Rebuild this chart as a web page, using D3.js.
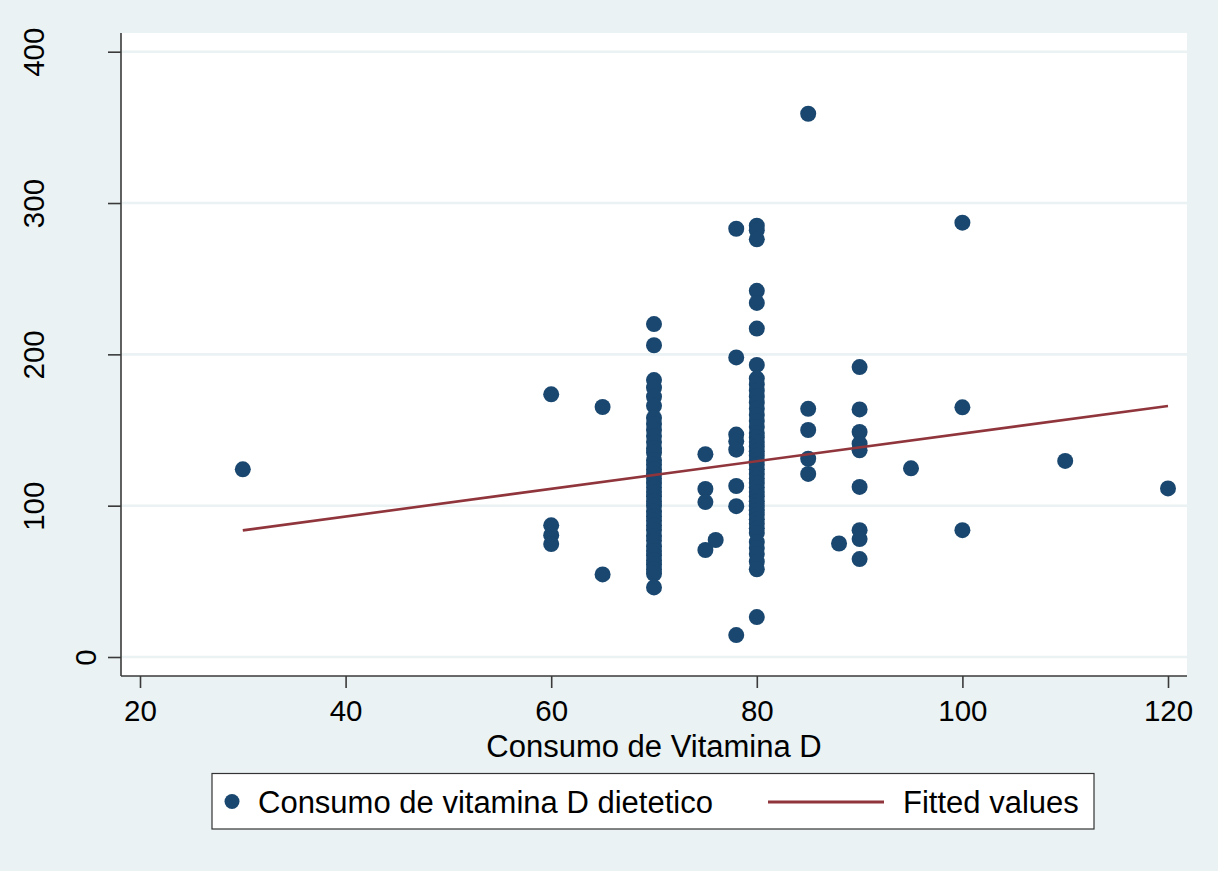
<!DOCTYPE html>
<html>
<head>
<meta charset="utf-8">
<script src="https://cdn.jsdelivr.net/npm/d3@7"></script>
<style>
  body { margin: 0; background: #eaf2f3; }
  svg { display: block; font-family: "Liberation Sans", Arial, Helvetica, sans-serif; }
</style>
</head>
<body>
<svg id="chart" width="1218" height="871"></svg>
<script>
// ---------- data ----------
const xTicks = [20, 40, 60, 80, 100, 120];
const yTicks = [0, 100, 200, 300, 400];
const xTitle = "Consumo de Vitamina D";
const legendLabels = ["Consumo de vitamina D dietetico", "Fitted values"];

// x levels (Consumo de Vitamina D) and the dietary values observed at each
const xLevels = [30, 60, 65, 70, 75, 76, 78, 80, 85, 88, 90, 95, 100, 110, 120];
const yAt30  = [124];
const yAt60  = [173.6, 87, 80.5, 74.6];
const yAt65  = [165.2, 54.6];
const yAt70  = [220, 206, 183, 178, 172, 166, 158, 154, 150, 146, 142, 138, 135, 130, 127, 124, 121, 118,
                115, 112, 109, 106, 103, 100, 96, 93, 90, 87, 84, 80, 77, 73, 70, 67, 64, 61, 58, 55, 46];
const yAt75  = [134, 111, 102.4, 70.7];
const yAt76  = [77.3];
const yAt78  = [283, 198, 147, 142.5, 137, 113, 99.7, 14.5];
const yAt80  = [285, 282, 276, 242, 234, 217, 193, 184, 180, 176, 172, 168, 164, 160, 156, 152, 148, 145,
                142, 139, 136, 133, 130, 127, 124, 121, 118, 115, 112, 109, 106, 103, 100, 97, 94, 91, 88,
                85, 82, 76, 72, 68, 63, 58, 26.4];
const yAt85  = [359, 164, 150, 131, 121];
const yAt88  = [75];
const yAt90  = [191.6, 163.6, 148.7, 141, 136.6, 112.4, 83.8, 77.9, 64.7];
const yAt95  = [124.7];
const yAt100 = [287, 165, 83.8];
const yAt110 = [129.6];
const yAt120 = [111.4];
const yByLevel = [yAt30, yAt60, yAt65, yAt70, yAt75, yAt76, yAt78, yAt80, yAt85, yAt88, yAt90, yAt95, yAt100, yAt110, yAt120];

// fitted values (linear fit)
const fitX = [30, 120];
const fitY = [83.7, 165.9];

// ---------- build ----------
const points = [];
xLevels.forEach((xv, i) => yByLevel[i].forEach(yv => points.push({x: xv, y: yv})));
const fitLine = fitX.map((xv, i) => ({x: xv, y: fitY[i]}));

const svg = d3.select("#chart");
const W = 1218, H = 871;
const plot = {left: 121, right: 1187, top: 33, bottom: 676};

const COL_BG = "#eaf2f3", COL_MARK = "#1a476f", COL_FIT = "#90353b", COL_AXIS = "#3a3a3a";

const x = d3.scaleLinear().domain([20, 120]).range([140, 1168]);
const y = d3.scaleLinear().domain([0, 400]).range([657, 51.7]);

svg.append("rect").attr("width", W).attr("height", H).attr("fill", COL_BG);
svg.append("rect")
  .attr("x", plot.left).attr("y", plot.top)
  .attr("width", plot.right - plot.left).attr("height", plot.bottom - plot.top)
  .attr("fill", "#ffffff");

// grid lines
svg.append("g").selectAll("line").data(yTicks).join("line")
  .attr("x1", plot.left).attr("x2", plot.right)
  .attr("y1", d => y(d)).attr("y2", d => y(d))
  .attr("stroke", COL_BG).attr("stroke-width", 2.6);

// points
svg.append("g").selectAll("circle").data(points).join("circle")
  .attr("cx", d => x(d.x)).attr("cy", d => y(d.y))
  .attr("r", 8).attr("fill", COL_MARK);

// fitted line
svg.append("path").datum(fitLine)
  .attr("d", d3.line().x(d => x(d.x)).y(d => y(d.y)))
  .attr("fill", "none").attr("stroke", COL_FIT).attr("stroke-width", 2.6);

// x axis
const xAxis = svg.append("g").attr("transform", `translate(0,${plot.bottom})`)
  .call(d3.axisBottom(x).tickValues(xTicks).tickSize(12).tickSizeOuter(0).tickPadding(9).tickFormat(d3.format("d")));
xAxis.select(".domain").attr("d", `M${plot.left},0H${plot.right}`).attr("stroke", COL_AXIS).attr("stroke-width", 1.6);
xAxis.selectAll(".tick line").attr("stroke", COL_AXIS).attr("stroke-width", 1.6);
xAxis.selectAll(".tick text")
  .attr("font-size", 29.5).attr("fill", "#000")
  .attr("font-family", "Liberation Sans, Arial, sans-serif")
  .attr("dy", null).attr("y", 45);

// y axis
const yAxis = svg.append("g").attr("transform", `translate(${plot.left},0)`)
  .call(d3.axisLeft(y).tickValues(yTicks).tickSize(13).tickSizeOuter(0).tickFormat(d3.format("d")));
yAxis.select(".domain").attr("d", `M0,${plot.top}V${plot.bottom}`).attr("stroke", COL_AXIS).attr("stroke-width", 1.6);
yAxis.selectAll(".tick line").attr("stroke", COL_AXIS).attr("stroke-width", 1.6);
yAxis.selectAll(".tick text").remove();
// rotated labels
yAxis.selectAll(".tick").append("text")
  .text(d => d3.format("d")(d))
  .attr("fill", "#000").attr("font-size", 29.5)
  .attr("font-family", "Liberation Sans, Arial, sans-serif")
  .attr("text-anchor", "middle")
  .attr("transform", d => {
    const len = String(d).length;
    const cx = 85 - (len - 1) * 26 - plot.left;
    return `translate(${cx + 11},0) rotate(-90)`;
  });

// x title
svg.append("text").text(xTitle)
  .attr("x", (plot.left + plot.right) / 2).attr("y", 756.5)
  .attr("text-anchor", "middle").attr("font-size", 31).attr("fill", "#000");

// legend
const lg = svg.append("g");
lg.append("rect").attr("x", 212).attr("y", 773.5).attr("width", 882).attr("height", 55.5)
  .attr("fill", "#fff").attr("stroke", "#333").attr("stroke-width", 1.2);
lg.append("circle").attr("cx", 232).attr("cy", 801.5).attr("r", 7.5).attr("fill", COL_MARK);
lg.append("text").text(legendLabels[0]).attr("x", 258).attr("y", 813)
  .attr("font-size", 31).attr("fill", "#000");
lg.append("line").attr("x1", 768).attr("x2", 884).attr("y1", 802).attr("y2", 802)
  .attr("stroke", COL_FIT).attr("stroke-width", 3);
lg.append("text").text(legendLabels[1]).attr("x", 903).attr("y", 813)
  .attr("font-size", 31).attr("fill", "#000");
</script>
</body>
</html>
